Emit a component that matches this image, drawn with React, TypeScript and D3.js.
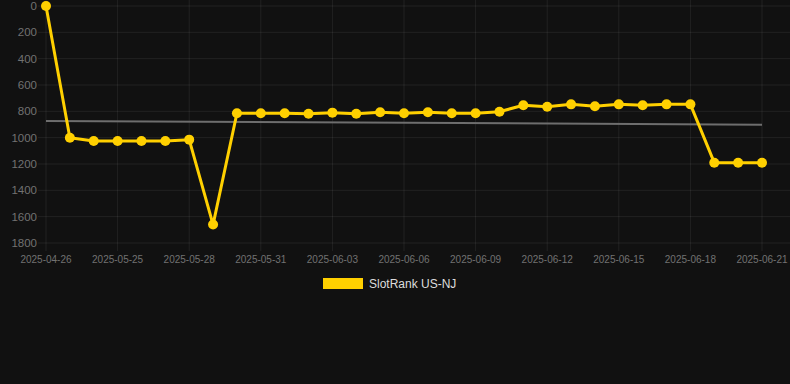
import React from "react";
import * as d3 from "d3";

const dates: string[] = [
  "2025-04-26", "2025-05-23", "2025-05-24", "2025-05-25", "2025-05-26", "2025-05-27",
  "2025-05-28", "2025-05-29", "2025-05-30", "2025-05-31", "2025-06-01", "2025-06-02",
  "2025-06-03", "2025-06-04", "2025-06-05", "2025-06-06", "2025-06-07", "2025-06-08",
  "2025-06-09", "2025-06-10", "2025-06-11", "2025-06-12", "2025-06-13", "2025-06-14",
  "2025-06-15", "2025-06-16", "2025-06-17", "2025-06-18", "2025-06-19", "2025-06-20",
  "2025-06-21",
];
const ranks: number[] = [
  0, 1000, 1025, 1025, 1025, 1025, 1015, 1660, 815, 815, 815, 818, 810, 818, 807, 815,
  807, 815, 815, 803, 754, 765, 747, 762, 747, 754, 747, 747, 1190, 1190, 1190,
];
const trend: number[] = [873, 901];
const yTicks: number[] = [0, 200, 400, 600, 800, 1000, 1200, 1400, 1600, 1800];
const seriesName = "SlotRank US-NJ";

const W = 790;
const H = 384;
const left = 46;
const right = 762;
const top = 6;
const bottom = 243;

export default function App() {
  const x = d3.scalePoint<string>().domain(dates).range([left, right]);
  const y = d3.scaleLinear().domain([0, 1800]).range([top, bottom]);
  const line = d3
    .line<number>()
    .x((_, i) => x(dates[i]) as number)
    .y((d) => y(d));
  const xTicks = dates.filter((_, i) => i % 3 === 0);
  const font = "Arial, 'Liberation Sans', sans-serif";
  return (
    <svg
      width={W}
      height={H}
      style={{ position: "absolute", left: 0, top: 0, background: "#111111" }}
    >
      <rect x={0} y={0} width={W} height={H} fill="#111111" />
      {yTicks.map((t) => (
        <line
          key={"h" + t}
          x1={left - 8}
          x2={W}
          y1={y(t)}
          y2={y(t)}
          stroke="rgba(255,255,255,0.07)"
          strokeWidth={1}
        />
      ))}
      {xTicks.map((d) => (
        <line
          key={"v" + d}
          x1={x(d)}
          x2={x(d)}
          y1={0}
          y2={bottom + 8}
          stroke="rgba(255,255,255,0.07)"
          strokeWidth={1}
        />
      ))}
      {yTicks.map((t) => (
        <text
          key={"yl" + t}
          x={37}
          y={y(t)}
          textAnchor="end"
          dominantBaseline="central"
          fill="#727272"
          fontSize={11.5}
          fontFamily={font}
        >
          {t}
        </text>
      ))}
      {xTicks.map((d) => (
        <text
          key={"xl" + d}
          x={x(d)}
          y={259}
          textAnchor="middle"
          dominantBaseline="central"
          fill="#727272"
          fontSize={10}
          fontFamily={font}
        >
          {d}
        </text>
      ))}
      <line
        x1={x(dates[0])}
        x2={x(dates[dates.length - 1])}
        y1={y(trend[0])}
        y2={y(trend[1])}
        stroke="#6e6e6e"
        strokeWidth={2}
      />
      <path d={line(ranks) || ""} fill="none" stroke="#FFD000" strokeWidth={3} strokeLinejoin="round" />
      {ranks.map((v, i) => (
        <circle key={"p" + i} cx={x(dates[i])} cy={y(v)} r={5} fill="#FFD000" />
      ))}
      <rect x={323} y={278} width={40} height={11} fill="#FFD000" />
      <text
        x={369}
        y={284}
        dominantBaseline="central"
        fill="#dddddd"
        fontSize={12}
        fontFamily={font}
      >
        {seriesName}
      </text>
    </svg>
  );
}
